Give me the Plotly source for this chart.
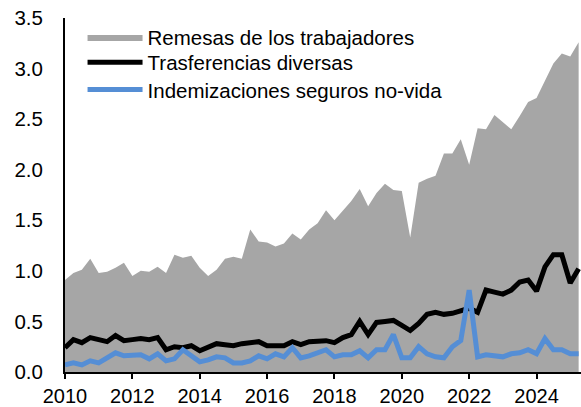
import plotly.graph_objects as go

start_year = 2010
quarters = [start_year + 0.25 * i for i in range(62)]

remesas = [0.91, 0.98, 1.01, 1.12, 0.98, 0.99, 1.03, 1.08, 0.95, 1.00,
           0.99, 1.04, 0.98, 1.16, 1.13, 1.15, 1.03, 0.95, 1.01, 1.12,
           1.14, 1.12, 1.41, 1.29, 1.28, 1.24, 1.27, 1.37, 1.31, 1.41,
           1.47, 1.60, 1.50, 1.59, 1.69, 1.81, 1.64, 1.77, 1.86, 1.80,
           1.79, 1.33, 1.87, 1.91, 1.94, 2.16, 2.16, 2.30, 2.05, 2.41,
           2.40, 2.54, 2.47, 2.40, 2.53, 2.67, 2.71, 2.88, 3.05, 3.15,
           3.12, 3.26]

trasferencias = [0.24, 0.32, 0.29, 0.34, 0.32, 0.30, 0.36, 0.31, 0.32, 0.33,
                 0.32, 0.34, 0.22, 0.25, 0.24, 0.26, 0.21, 0.25, 0.28, 0.27,
                 0.26, 0.28, 0.29, 0.30, 0.26, 0.26, 0.26, 0.30, 0.27, 0.30,
                 0.30, 0.31, 0.29, 0.34, 0.37, 0.50, 0.37, 0.49, 0.50, 0.51,
                 0.46, 0.41, 0.48, 0.57, 0.59, 0.57, 0.58, 0.60, 0.63, 0.59,
                 0.81, 0.79, 0.77, 0.81, 0.89, 0.91, 0.80, 1.04, 1.16, 1.16,
                 0.88, 1.02]

indemnizaciones = [0.07, 0.09, 0.07, 0.11, 0.09, 0.14, 0.19, 0.16, 0.16, 0.17,
                   0.13, 0.18, 0.11, 0.13, 0.22, 0.16, 0.10, 0.12, 0.15, 0.14,
                   0.09, 0.09, 0.11, 0.16, 0.13, 0.18, 0.15, 0.24, 0.14, 0.16,
                   0.19, 0.22, 0.15, 0.17, 0.17, 0.21, 0.14, 0.22, 0.22, 0.37,
                   0.14, 0.14, 0.25, 0.18, 0.15, 0.14, 0.25, 0.31, 0.81, 0.15,
                   0.17, 0.16, 0.15, 0.18, 0.19, 0.22, 0.18, 0.33, 0.22, 0.22,
                   0.18, 0.18]

names = ["Remesas de los trabajadores", "Trasferencias diversas",
         "Indemizaciones seguros no-vida"]
x_ticks = [2010, 2012, 2014, 2016, 2018, 2020, 2022, 2024]
y_ticks = [0, 0.5, 1.0, 1.5, 2.0, 2.5, 3.0, 3.5]

FONT = "Arial, Liberation Sans, sans-serif"
FS = 20.5

fig = go.Figure()
fig.add_trace(go.Scatter(x=quarters, y=remesas, name=names[0], mode="lines",
                         fill="tozeroy", fillcolor="#a6a6a6", legend="legend",
                         line=dict(width=0, color="#a6a6a6")))
fig.add_trace(go.Scatter(x=quarters, y=trasferencias, name=names[1], mode="lines",
                         legend="legend2",
                         line=dict(color="#000000", width=5)))
fig.add_trace(go.Scatter(x=quarters, y=indemnizaciones, name=names[2], mode="lines",
                         legend="legend3",
                         line=dict(color="#558ed5", width=5)))

def leg(y):
    return dict(x=0.034, y=y, xanchor="left", yanchor="top",
                bgcolor="rgba(0,0,0,0)", font=dict(size=FS),
                itemwidth=55, tracegroupgap=0)

fig.update_layout(
    width=581, height=407,
    margin=dict(l=65, r=0, t=18, b=35, autoexpand=False),
    paper_bgcolor="white", plot_bgcolor="white",
    font=dict(family=FONT, size=FS, color="#000000"),
    showlegend=True,
    legend=leg(1.002),
    legend2=leg(0.931),
    legend3=leg(0.854),
    xaxis=dict(range=[2010, 2025.32], tickvals=x_ticks,
               ticktext=[str(v) for v in x_ticks],
               tickfont=dict(size=20),
               showgrid=False, zeroline=False, showline=True,
               linecolor="#000000", linewidth=2, automargin=False,
               ticks="outside", ticklen=5, tickwidth=2, tickcolor="#000000",
               ticklabelstandoff=0),
    yaxis=dict(range=[0, 3.5], tickvals=y_ticks,
               ticktext=[f"{v:.1f}" for v in y_ticks],
               showgrid=False, zeroline=False, showline=True, automargin=False,
               linecolor="#000000", linewidth=2, ticks="",
               ticklabelstandoff=16),
)

fig.write_html("out.html", config={"displayModeBar": False},
               post_script="document.body.style.margin='0';document.body.style.padding='0';")
